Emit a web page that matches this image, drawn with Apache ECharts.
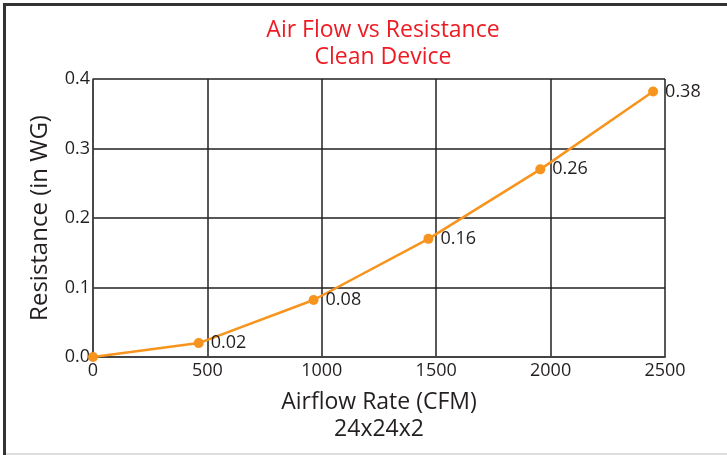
<!DOCTYPE html>
<html><head><meta charset="utf-8">
<script src="https://cdn.jsdelivr.net/npm/echarts@6/dist/echarts.min.js"></script>
<style>html,body{margin:0;padding:0;background:#fff}#c{width:727px;height:455px}</style>
</head><body><div id="c"></div>
<script>
const airflow = [0, 462, 964, 1466, 1955, 2448];
const resistance = [0, 0.02, 0.082, 0.17, 0.27, 0.382];
const pointLabels = ['', '0.02', '0.08', '0.16', '0.26', '0.38'];
const titleLines = ['Air Flow vs Resistance', 'Clean Device'];
const xTitle = ['Airflow Rate (CFM)', '24x24x2'];
const yTitle = 'Resistance (in WG)';

const FONT = 'Open Sans';
const TXT = '#231f20';
const chart = echarts.init(document.getElementById('c'), null, {renderer: 'canvas'});
chart.setOption({
  animation: false,
  backgroundColor: '#fff',
  title: {
    text: titleLines.join('\n'),
    left: 378, top: 12, textAlign: 'center',
    textStyle: {color: '#ed1c24', fontFamily: FONT, fontSize: 23, fontWeight: 'normal', lineHeight: 27}
  },
  grid: {left: 93, top: 79, right: 62, bottom: 98, containLabel: false},
  xAxis: {
    type: 'value', min: 0, max: 2500, interval: 500,
    name: xTitle.join('\n'), nameLocation: 'middle', nameGap: 32,
    nameTextStyle: {color: TXT, fontFamily: FONT, fontSize: 23, lineHeight: 27, verticalAlign: 'top'},
    axisLine: {show: true, lineStyle: {color: '#444', width: 2}},
    axisTick: {show: false},
    axisLabel: {color: TXT, fontFamily: FONT, fontSize: 18, margin: 5, formatter: v => String(v)},
    splitLine: {show: true, lineStyle: {color: '#231f20', width: 1.5}}
  },
  yAxis: {
    type: 'value', min: 0, max: 0.4, interval: 0.1,
    name: yTitle, nameLocation: 'middle', nameGap: 41, nameRotate: 90,
    nameTextStyle: {color: TXT, fontFamily: FONT, fontSize: 24},
    axisLine: {show: true, lineStyle: {color: '#444', width: 1.5}},
    axisTick: {show: false},
    axisLabel: {color: TXT, fontFamily: FONT, fontSize: 18, margin: 3,
      formatter: v => v.toFixed(1), padding: [0, 0, 9, 0]},
    splitLine: {show: true, lineStyle: {color: '#231f20', width: 1.5}}
  },
  series: [{
    type: 'line',
    data: airflow.map((x, i) => [x, resistance[i]]),
    lineStyle: {color: '#f7941d', width: 2.5},
    itemStyle: {color: '#f7941d'},
    symbol: 'circle', symbolSize: 10,
    label: {
      show: true, position: 'right', distance: 7,
      color: TXT, fontFamily: FONT, fontSize: 18,
      formatter: p => pointLabels[p.dataIndex]
    }
  }],
  graphic: [
    {type: 'rect', shape: {x: 3, y: 3, width: 724, height: 3}, style: {fill: '#333'}},
    {type: 'rect', shape: {x: 3, y: 3, width: 3, height: 452}, style: {fill: '#333'}},
    {type: 'rect', shape: {x: 6, y: 453, width: 721, height: 2}, style: {fill: '#ddd'}}
  ]
});
</script></body></html>
